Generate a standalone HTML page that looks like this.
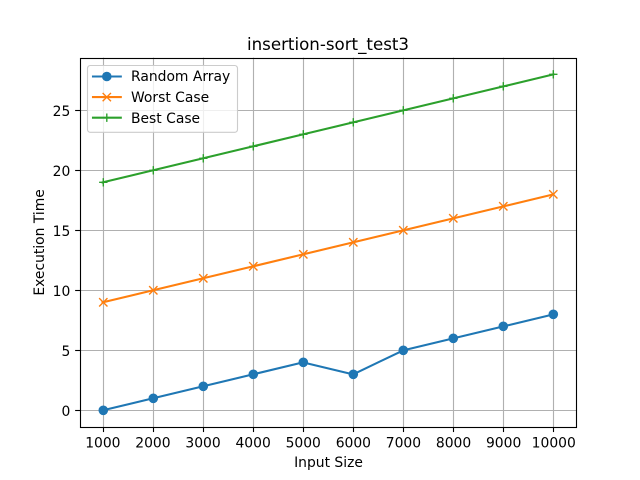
<!DOCTYPE html>
<html>
<head>
<meta charset="utf-8">
<title>insertion-sort_test3</title>
<style>
html,body{margin:0;padding:0;background:#fff;width:640px;height:480px;overflow:hidden}
svg{display:block}
text{font-family:"DejaVu Sans",sans-serif;fill:#000}
</style>
</head>
<body>
<svg id="chart" xmlns="http://www.w3.org/2000/svg" width="640" height="480" viewBox="0 0 640 480">
  <rect width="640" height="480" fill="#fff"/>
  <text x="328" y="50" font-size="16.67" text-anchor="middle">insertion-sort_test3</text>
  <text x="328.5" y="467" font-size="13.89" text-anchor="middle">Input Size</text>
  <text x="0" y="0" font-size="13.89" text-anchor="middle" transform="translate(44 242.4) rotate(-90)">Execution Time</text>
</svg>
<script>
const inputSizes = [1000, 2000, 3000, 4000, 5000, 6000, 7000, 8000, 9000, 10000];
const randomArray = [0, 1, 2, 3, 4, 3, 5, 6, 7, 8];
const worstCase = [9, 10, 11, 12, 13, 14, 15, 16, 17, 18];
const bestCase = [19, 20, 21, 22, 23, 24, 25, 26, 27, 28];
const xTickLabels = [1000, 2000, 3000, 4000, 5000, 6000, 7000, 8000, 9000, 10000];
const yTickLabels = [0, 5, 10, 15, 20, 25];
const seriesNames = ['Random Array', 'Worst Case', 'Best Case'];

const NS = 'http://www.w3.org/2000/svg';
const svg = document.getElementById('chart');
const plot = { left: 80, right: 576, top: 57.6, bottom: 427.2 };
const colors = ['#1f77b4', '#ff7f0e', '#2ca02c'];
const markers = ['circle', 'x', 'plus'];
const slugs = ['random-array', 'worst-case', 'best-case'];
const seriesValues = [randomArray, worstCase, bestCase];

const allValues = seriesValues.flat();
const yMinData = Math.min(...allValues);
const yMaxData = Math.max(...allValues);
const yPad = (yMaxData - yMinData) * 0.05;
const xMinData = Math.min(...inputSizes);
const xMaxData = Math.max(...inputSizes);
const xPad = (xMaxData - xMinData) * 0.05;

function xScale(v) {
  return plot.left + (v - (xMinData - xPad)) / ((xMaxData + xPad) - (xMinData - xPad)) * (plot.right - plot.left);
}
function yScale(v) {
  return plot.bottom - (v - (yMinData - yPad)) / ((yMaxData + yPad) - (yMinData - yPad)) * (plot.bottom - plot.top);
}
function snap(p) {
  return Math.round(p) + 0.5;
}
function el(tag, attrs, parent) {
  const node = document.createElementNS(NS, tag);
  for (const k in attrs) node.setAttribute(k, attrs[k]);
  (parent || svg).appendChild(node);
  return node;
}
function drawMarker(kind, x, y, color, parent) {
  if (kind === 'circle') {
    return el('circle', { cx: x, cy: y, r: 4.8, fill: color }, parent);
  }
  const r = 4.17;
  if (kind === 'x') {
    return el('path', { d: `M${x - r} ${y - r}L${x + r} ${y + r}M${x - r} ${y + r}L${x + r} ${y - r}`, stroke: color, 'stroke-width': 1.39, fill: 'none' }, parent);
  }
  return el('path', { d: `M${x - r} ${y}L${x + r} ${y}M${x} ${y - r}L${x} ${y + r}`, stroke: color, 'stroke-width': 1.39, fill: 'none' }, parent);
}

// grid lines and ticks
const gridX = el('g', {});


inputSizes.forEach((v, i) => {
  const x = snap(xScale(v));
  el('line', { x1: x, x2: x, y1: plot.top, y2: plot.bottom, stroke: '#b0b0b0', 'stroke-width': 1.11 }, gridX);
  el('line', { x1: x, x2: x, y1: plot.bottom, y2: plot.bottom + 4.86, stroke: '#000', 'stroke-width': 1.11 }, gridX);
  const label = el('text', { x: xScale(v) + 0.3, y: plot.bottom + 20.4, 'font-size': 13.89, 'text-anchor': 'middle' }, gridX);
  label.textContent = xTickLabels[i];
  
  
});
const gridY = el('g', {});


yTickLabels.forEach((v) => {
  const y = snap(yScale(v));
  el('line', { x1: plot.left, x2: plot.right, y1: y, y2: y, stroke: '#b0b0b0', 'stroke-width': 1.11 }, gridY);
  el('line', { x1: plot.left - 4.86, x2: plot.left, y1: y, y2: y, stroke: '#000', 'stroke-width': 1.11 }, gridY);
  const label = el('text', { x: plot.left - 9.7, y: yScale(v) + 5.5, 'font-size': 13.89, 'text-anchor': 'end' }, gridY);
  label.textContent = v;
  
  
});

// series
seriesValues.forEach((vals, s) => {
  const g = el('g', {});
  
  
  const pts = vals.map((v, i) => xScale(inputSizes[i]).toFixed(2) + ',' + yScale(v).toFixed(2)).join(' ');
  el('polyline', { points: pts, fill: 'none', stroke: colors[s], 'stroke-width': 2.08, 'stroke-linejoin': 'round', 'stroke-linecap': 'square' }, g);
  vals.forEach((v, i) => {
    const m = drawMarker(markers[s], snap(xScale(inputSizes[i])) - 0.2, snap(yScale(v)) - 0.2, colors[s], g);
    
    
  });
});

// axes frame
const frame = el('rect', { x: snap(plot.left), y: snap(plot.top), width: snap(plot.right) - snap(plot.left), height: snap(plot.bottom) - snap(plot.top), fill: 'none', stroke: '#000', 'stroke-width': 1.11 });



// legend
const legend = el('g', {});


el('rect', { x: 87.5, y: 65.5, width: 150, height: 66.8, rx: 2.8, ry: 2.8, fill: '#fff', 'fill-opacity': 0.8, stroke: '#cccccc', 'stroke-width': 1.11 }, legend);
seriesNames.forEach((name, i) => {
  const y = 76.5 + i * 20.6;
  const entry = el('g', {}, legend);
  
  
  el('line', { x1: 93, x2: 120.8, y1: y, y2: y, stroke: colors[i], 'stroke-width': 2.08, 'stroke-linecap': 'square' }, entry);
  drawMarker(markers[i], 106.8, y, colors[i], entry);
  const t = el('text', { x: 131, y: 81 + i * 21, 'font-size': 13.89 }, entry);
  t.textContent = name;
});
</script>
</body>
</html>
